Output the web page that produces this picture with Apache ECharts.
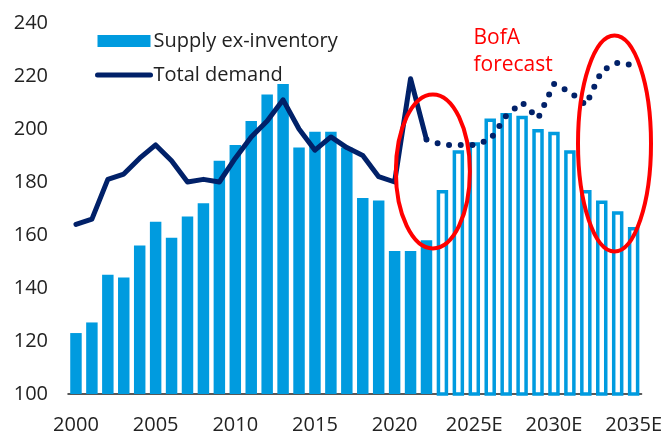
<!DOCTYPE html>
<html>
<head>
<meta charset="utf-8">
<script src="https://cdn.jsdelivr.net/npm/echarts@6/dist/echarts.min.js"></script>
<style>
html, body { margin: 0; padding: 0; background: #fff; }
#main { width: 665px; height: 435px; }
</style>
</head>
<body>
<div id="main"></div>
<script>
var chartDom = document.getElementById('main');
var myChart = echarts.init(chartDom);
var option;

var years = ['2000', '2001', '2002', '2003', '2004', '2005', '2006', '2007', '2008', '2009',
    '2010', '2011', '2012', '2013', '2014', '2015', '2016', '2017', '2018', '2019',
    '2020', '2021', '2022', '2023E', '2024E', '2025E', '2026E', '2027E', '2028E', '2029E',
    '2030E', '2031E', '2032E', '2033E', '2034E', '2035E'];

// supply ex-inventory, actual (to 2022) and forecast (2023E on)
var supplyActual = [123, 127, 145, 144, 156, 165, 159, 167, 172, 188,
    194, 203, 213, 217, 193, 199, 199, 193, 174, 173,
    154, 154, 158];
var supplyForecast = [177, 192, 195, 204, 206, 205, 200, 199, 192, 177, 173, 169, 163];

// total demand, actual and forecast
var demandActual = [164, 166, 181, 183, 189, 194, 188, 180, 181, 180,
    189, 197, 203, 211, 200, 192, 197, 193, 190, 182,
    180, 219, 196];
var demandForecast = [194, 194, 194, 196, 205, 210, 204, 217, 214, 209, 222, 225, 224];

var blue = '#009bdf';
var navy = '#012169';
var red = '#ff0000';
var textColor = '#222';
var fontFam = '"Open Sans", "Noto Sans", sans-serif';

var nA = supplyActual.length;
var pad = function (n) { var a = []; for (var i = 0; i < n; i++) a.push('-'); return a; };

var barSolid = supplyActual.concat(pad(years.length - nA));
var barHollow = pad(nA).concat(supplyForecast);
var lineSolid = demandActual.concat(pad(years.length - nA));
// dotted line starts from the last actual point
var lineDotted = pad(nA - 1).concat([demandActual[nA - 1]]).concat(demandForecast);

option = {
    animation: false,
    grid: {
        left: 68,
        right: 20,
        top: 23,
        bottom: 40
    },
    legend: {
        orient: 'vertical',
        left: 95,
        top: 31,
        padding: 0,
        itemWidth: 53,
        itemHeight: 12,
        itemGap: 14,
        textStyle: { fontSize: 20, color: textColor, fontFamily: fontFam, padding: [0, 0, 0, -2] },
        data: [
            { name: 'Supply ex-inventory', icon: 'rect' },
            { name: 'Total demand', itemStyle: { opacity: 0 }, lineStyle: { width: 5, cap: 'round' } }
        ]
    },
    xAxis: {
        type: 'category',
        data: years,
        axisLine: { lineStyle: { color: '#222', width: 1.5 } },
        axisTick: { show: false },
        axisLabel: {
            interval: 4,
            margin: 21,
            fontSize: 20,
            color: textColor,
            fontFamily: fontFam
        }
    },
    yAxis: {
        type: 'value',
        min: 100,
        max: 240,
        interval: 20,
        splitLine: { show: false },
        axisLine: { show: false },
        axisTick: { show: false },
        axisLabel: {
            margin: 20,
            fontSize: 20,
            color: textColor,
            fontFamily: fontFam
        }
    },
    series: [
        {
            name: 'Supply ex-inventory',
            type: 'bar',
            data: barSolid,
            barCategoryGap: '28%',
            itemStyle: { color: blue }
        },
        {
            name: 'Supply forecast',
            type: 'bar',
            data: barHollow,
            barGap: '-100%',
            barCategoryGap: '28%',
            itemStyle: { color: '#fff', borderColor: blue, borderWidth: 3.5 }
        },
        {
            name: 'Total demand',
            type: 'line',
            data: lineSolid,
            symbol: 'none',
            lineStyle: { color: navy, width: 5, cap: 'round', join: 'round' },
            itemStyle: { color: navy },
            z: 5
        },
        {
            name: 'Demand forecast',
            type: 'line',
            data: lineDotted,
            symbol: 'none',
            lineStyle: { color: navy, width: 6, type: [0, 11.7], cap: 'round' },
            z: 5
        }
    ]
};

myChart.setOption(option);

// pixel position for a fractional category index
function pos(idx, val) {
    var i0 = Math.floor(idx);
    var a = myChart.convertToPixel({ xAxisIndex: 0, yAxisIndex: 0 }, [i0, val]);
    var b = myChart.convertToPixel({ xAxisIndex: 0, yAxisIndex: 0 }, [i0 + 1, val]);
    return [a[0] + (b[0] - a[0]) * (idx - i0), a[1]];
}

// red ellipses and label, anchored to data coordinates
var c1 = pos(22.4, 184);
var c2 = pos(33.8, 194.5);
var t1 = pos(24.95, 239.5);

myChart.setOption({
    graphic: [
        {
            type: 'ellipse',
            shape: { cx: c1[0], cy: c1[1], rx: 37, ry: 77 },
            style: { fill: null, stroke: red, lineWidth: 4 },
            z: 10
        },
        {
            type: 'ellipse',
            shape: { cx: c2[0], cy: c2[1], rx: 36.5, ry: 108 },
            style: { fill: null, stroke: red, lineWidth: 4 },
            z: 10
        },
        {
            type: 'text',
            left: t1[0],
            top: t1[1],
            style: {
                text: 'BofA\nforecast',
                fill: red,
                font: '21px ' + fontFam,
                lineHeight: 27
            },
            z: 10
        }
    ]
});
</script>
</body>
</html>
